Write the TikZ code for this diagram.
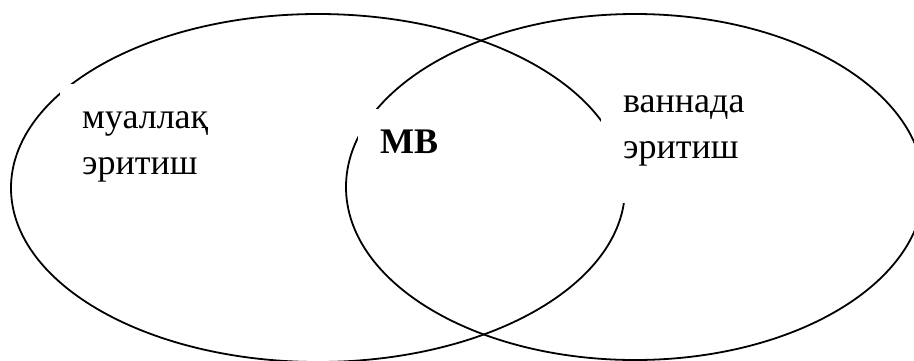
\documentclass[tikz,border=0pt]{standalone}
\usepackage{fontspec}
\setmainfont{Liberation Serif}
\begin{document}
\begin{tikzpicture}[x=1pt,y=-1pt,
  ring/.style={draw=black,line width=1.8pt},
  label/.style={fill=white,anchor=north west,inner xsep=22pt,inner ysep=12pt,
    align=left,font=\fontsize{36}{46}\selectfont}]
\useasboundingbox (0,0) rectangle (914,360);
\clip (0,0) rectangle (914,360);
\fill[white] (0,0) rectangle (914,360);
\draw[ring] (318,188) ellipse [x radius=307pt, y radius=174pt];
\draw[ring] (635,187) ellipse [x radius=289pt, y radius=173pt];
\node[label] (left) at (60,83.8) {\strut муаллақ\\\strut эритиш};
\node[label] (mid) at (358,108.8) {\strut\textbf{МВ}};
\node[label] (right) at (601,67.8) {\strut ваннада\\\strut эритиш\rule[-33pt]{0pt}{1pt}};
\end{tikzpicture}
\end{document}
